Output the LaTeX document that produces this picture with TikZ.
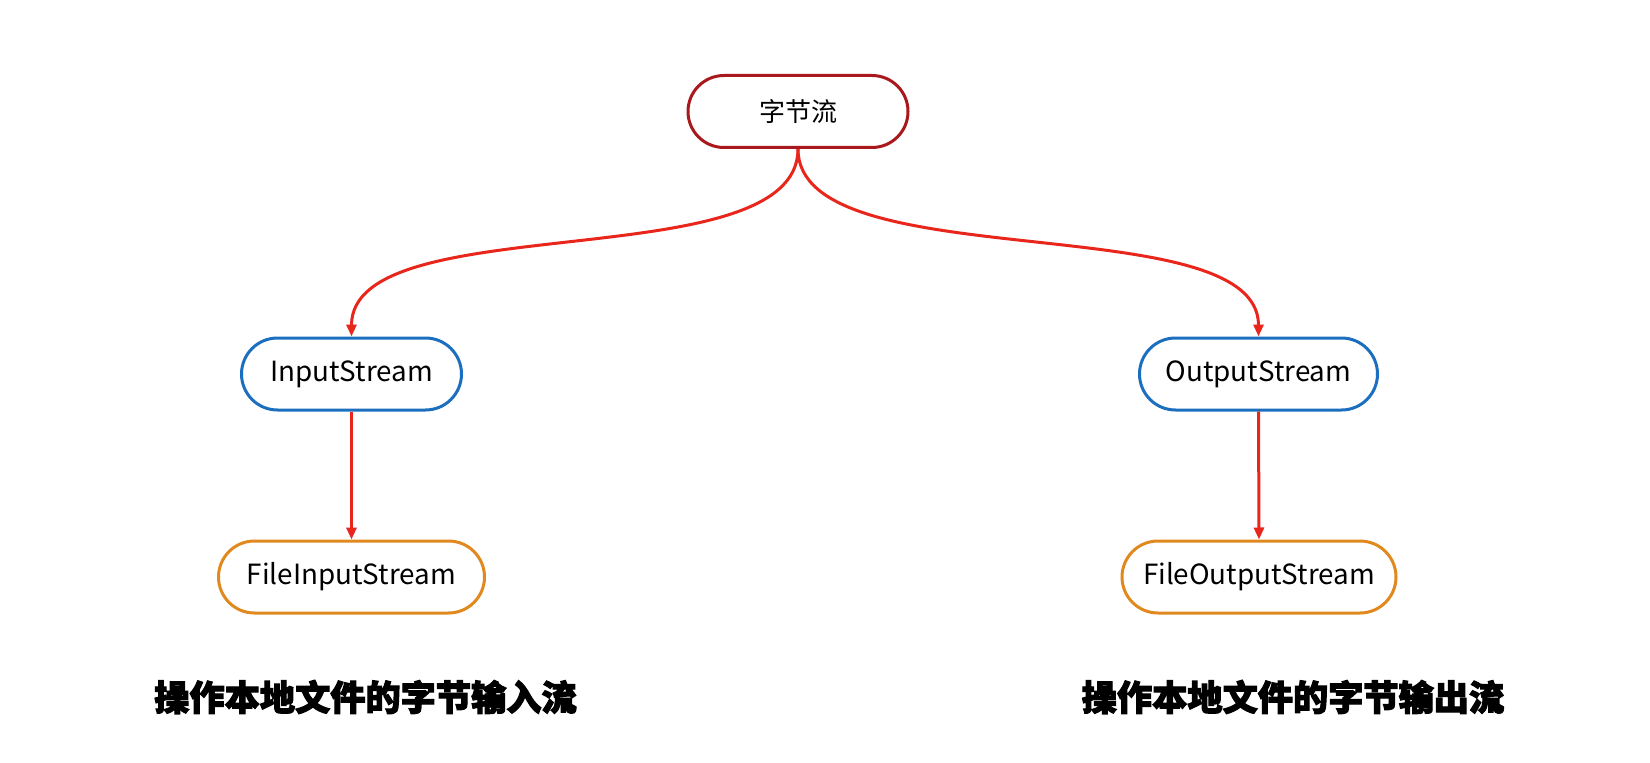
\documentclass[tikz,border=0pt]{standalone}
\usepackage{fontspec}
\setmainfont{Noto Sans CJK SC}
\newfontfamily\heavy[BoldFeatures={FakeBold=3}]{Noto Sans CJK SC}
\usetikzlibrary{arrows.meta}
\definecolor{topred}{HTML}{A8181C}
\definecolor{arrred}{HTML}{E8261B}
\definecolor{boxblue}{HTML}{1C6FBF}
\definecolor{boxorange}{HTML}{E0891F}
\begin{document}
\begin{tikzpicture}[x=0.5pt,y=0.5pt,
  pill/.style={draw, line width=1.5pt, rounded corners=18pt, minimum height=36pt,
    inner sep=0pt, fill=white, font=\fontsize{13.9}{17}\selectfont},
  toppill/.style={pill, draw=topred, font=\fontsize{13}{16}\selectfont},
  bluepill/.style={pill, draw=boxblue},
  orangepill/.style={pill, draw=boxorange},
  arr/.style={draw=arrred, line width=1.5pt, -{Triangle[length=6pt,width=5pt]}},
  note/.style={font=\heavy\bfseries\fontsize{17.6}{21}\selectfont}]
\useasboundingbox (0,0) rectangle (1650,762);
\node[toppill, minimum width=110pt] (top) at (798,650.5) {字节流};
\node[bluepill, minimum width=110pt] (in) at (351.5,388) {InputStream};
\node[bluepill, minimum width=119pt] (out) at (1258.5,388) {OutputStream};
\node[orangepill, minimum width=133pt] (fin) at (351.5,185) {FileInputStream};
\node[orangepill, minimum width=137pt] (fout) at (1259,185) {FileOutputStream};
\node[note] (nl) at (365.5,65) {操作本地文件的字节输入流};
\node[note] (nr) at (1293,65) {操作本地文件的字节输出流};
\draw[arr] (top.south) .. controls (798,482) and (351.5,557) .. (in.north);
\draw[arr] (top.south) .. controls (798,482) and (1258.5,557) .. (out.north);
\draw[arr] (in.south) -- (fin.north);
\draw[arr] (out.south) -- (fout.north);
\end{tikzpicture}
\end{document}
